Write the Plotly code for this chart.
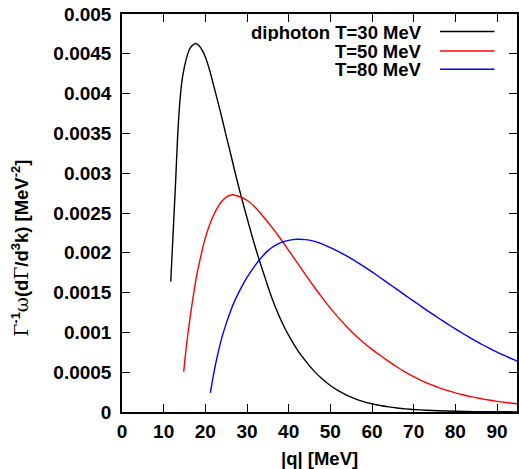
import plotly.graph_objects as go

# ---- data ----
q_t30 = [11.7, 12.85, 13.37, 14.0, 14.56, 15.4, 16.23, 17.0, 17.7, 18.5, 19.3, 20.0, 21.0, 22.0,
         23.0, 24.0, 25.0, 26.0, 27.0, 28.0, 29.0, 30.0, 31.0, 32.0, 33.0, 34.0, 35.0, 36.0,
         37.0, 38.0, 39.0, 40.0, 42.0, 44.0, 46.0, 48.0, 50.0, 52.0, 54.0, 56.0, 58.0, 60.0,
         62.0, 64.0, 66.0, 68.0, 70.0, 73.0, 76.0, 80.0, 85.0, 90.0, 95.0]
r_t30 = [0.00164, 0.00287, 0.00348, 0.00397, 0.00422, 0.00443, 0.00456, 0.00461, 0.00463,
         0.00460, 0.00454, 0.00446, 0.00430, 0.00410, 0.00390, 0.00369, 0.00347, 0.00326,
         0.00304, 0.00283, 0.00263, 0.00244, 0.00225, 0.00207, 0.00190, 0.00174, 0.00158,
         0.00143, 0.001295, 0.001172, 0.001062, 0.000962, 0.000788, 0.000645, 0.00052,
         0.000417, 0.000333, 0.000265, 0.00021, 0.000166, 0.000131, 0.000103, 0.000081,
         0.000064, 0.00005, 0.000039, 0.000031, 0.000022, 0.000015, 0.000009, 0.000005,
         0.000003, 0.000002]

q_t50 = [14.8, 15.5, 16.2, 17.0, 17.8, 18.8, 19.8, 21.0, 22.6, 24.0, 25.3, 26.6, 28.0, 30.0,
         32.0, 34.0, 36.0, 38.0, 40.0, 42.0, 44.0, 46.0, 48.0, 50.0, 52.0, 54.0, 56.0, 58.0,
         60.0, 62.0, 64.0, 66.0, 68.0, 70.0, 72.0, 74.0, 76.0, 78.0, 80.0, 82.0, 84.0, 86.0,
         88.0, 90.0, 92.0, 95.0]
r_t50 = [0.000504, 0.00085, 0.00113, 0.00142, 0.00168, 0.00193, 0.00215, 0.00235, 0.00254,
         0.00265, 0.00271, 0.00273, 0.00271, 0.00266, 0.00257, 0.00245, 0.00232, 0.00218,
         0.00203, 0.00188, 0.00173, 0.00158, 0.00144, 0.001305, 0.001182, 0.001068,
         0.000963, 0.00087, 0.000787, 0.00071, 0.000635, 0.000565, 0.0005, 0.000443,
         0.000392, 0.000347, 0.000307, 0.000272, 0.000241, 0.000214, 0.00019, 0.000169,
         0.00015, 0.000134, 0.00012, 0.000102]

q_t80 = [21.2, 22.0, 23.0, 24.0, 25.0, 26.0, 27.0, 28.0, 29.0, 30.0, 31.0, 32.0, 33.0, 34.0,
         35.0, 36.0, 37.0, 38.0, 40.0, 42.0, 44.0, 46.0, 48.0, 50.0, 52.0, 54.0, 56.0, 58.0,
         60.0, 62.0, 64.0, 66.0, 68.0, 70.0, 72.0, 74.0, 76.0, 78.0, 80.0, 82.0, 84.0, 86.0,
         88.0, 90.0, 92.0, 94.0, 95.0]
r_t80 = [0.00024, 0.00048, 0.00073, 0.00094, 0.00111, 0.00126, 0.00139, 0.00150, 0.00160,
         0.00169, 0.00177, 0.001845, 0.001913, 0.001973, 0.002024, 0.002066, 0.002099,
         0.002125, 0.002156, 0.00217, 0.002166, 0.002146, 0.002112, 0.002065, 0.002015,
         0.001958, 0.001896, 0.00183, 0.00176, 0.001687, 0.001613, 0.00154, 0.001466,
         0.001393, 0.00132, 0.001248, 0.001178, 0.00111, 0.001044, 0.00098, 0.000918,
         0.00086, 0.000805, 0.000753, 0.000704, 0.000658, 0.000636]

series_names = ["diphoton T=30 MeV", "T=50 MeV", "T=80 MeV"]
series_colors = ["#000000", "#ff0000", "#0000ff"]

x_ticks = [0, 10, 20, 30, 40, 50, 60, 70, 80, 90]
y_ticks = [0, 0.0005, 0.001, 0.0015, 0.002, 0.0025, 0.003, 0.0035, 0.004, 0.0045, 0.005]
y_ticktext = ["0", "0.0005", "0.001", "0.0015", "0.002", "0.0025", "0.003", "0.0035",
              "0.004", "0.0045", "0.005"]

FONT = "Liberation Sans"

fig = go.Figure()
for xs, ys, name, col in zip([q_t30, q_t50, q_t80], [r_t30, r_t50, r_t80],
                             series_names, series_colors):
    fig.add_trace(go.Scatter(x=xs, y=ys, mode="lines", name=name,
                             line=dict(color=col, width=1.4, shape="spline", smoothing=0.6),
                             showlegend=False))

# manual gnuplot-style legend (text, then sample line on its right)
leg_y = [0.956, 0.907, 0.861]
for name, col, yy in zip(series_names, series_colors, leg_y):
    fig.add_annotation(x=0.763, y=yy, xref="paper", yref="paper", text=name,
                       showarrow=False, xanchor="right", yanchor="middle", height=18,
                       borderpad=0,
                       font=dict(family=FONT, size=18.5, color="black", weight="bold"))
    fig.add_shape(type="line", xref="paper", yref="paper", x0=0.805, x1=0.943,
                  y0=yy, y1=yy, line=dict(color=col, width=1.4))

# axis titles
fig.add_annotation(x=0.5, y=-0.116, xref="paper", yref="paper", text="|q| [MeV]",
                   showarrow=False, xanchor="center", yanchor="middle", borderpad=0,
                   font=dict(family=FONT, size=18.5, color="black", weight="bold"))
fig.add_annotation(x=-0.257, y=0.412, xref="paper", yref="paper", textangle=-90,
                   text="<span style='font-family:DejaVu Serif;font-weight:normal'>Γ</span>"
                        "<sup>-1</sup>"
                        "<span style='font-family:DejaVu Serif;font-weight:normal'>ω</span>"
                        "(d<span style='font-family:DejaVu Serif;font-weight:normal'>Γ</span>"
                        "/d<sup>3</sup>k) [MeV<sup>-2</sup>]",
                   showarrow=False, xanchor="center", yanchor="middle",
                   font=dict(family=FONT, size=18.5, color="black", weight="bold"))

axis_common = dict(showline=True, linecolor="black", linewidth=1.5, mirror="allticks",
                   ticks="inside", ticklen=8, tickwidth=1.3, tickcolor="black",
                   showgrid=False, zeroline=False,
                   tickfont=dict(family=FONT, size=19, color="black", weight="bold"))

fig.update_xaxes(range=[0, 94.8], tickvals=x_ticks, ticklabelstandoff=1, **axis_common)
fig.update_yaxes(range=[0, 0.005], tickvals=y_ticks, ticktext=y_ticktext,
                 ticklabelstandoff=5, **axis_common)

fig.update_layout(width=519, height=469, margin=dict(l=122, r=0, t=14, b=57),
                  plot_bgcolor="white", paper_bgcolor="white")

fig.write_html("out.html")
